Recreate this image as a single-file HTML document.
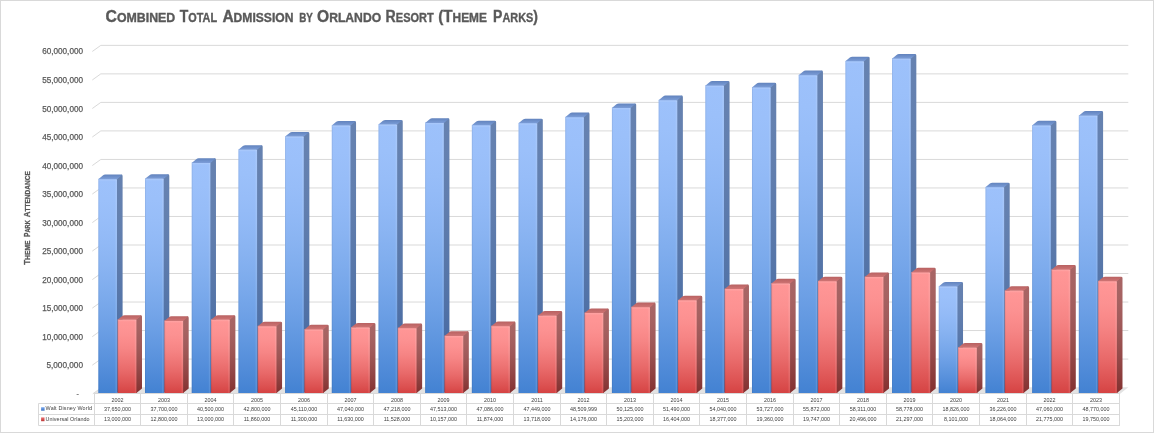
<!DOCTYPE html><html><head><meta charset="utf-8"><style>html,body{margin:0;padding:0;background:#fff;}svg{display:block;will-change:transform;}text{font-family:"Liberation Sans",sans-serif;}</style></head><body>
<svg width="1154" height="433" viewBox="0 0 1154 433">
<defs>
<linearGradient id="bf" x1="0" y1="0" x2="0" y2="1"><stop offset="0" stop-color="#9dc1fb"/><stop offset="0.1" stop-color="#9bc0fa"/><stop offset="0.2" stop-color="#97bdf8"/><stop offset="0.3" stop-color="#91b9f6"/><stop offset="0.4" stop-color="#8ab4f2"/><stop offset="0.5" stop-color="#81aeee"/><stop offset="0.6" stop-color="#77a7ea"/><stop offset="0.7" stop-color="#6c9fe5"/><stop offset="0.8" stop-color="#5f96df"/><stop offset="0.9" stop-color="#528cd9"/><stop offset="1.0" stop-color="#4382d2"/></linearGradient>
<linearGradient id="bs" x1="0" y1="0" x2="0" y2="1"><stop offset="0" stop-color="#6682b0"/><stop offset="0.1" stop-color="#6581b0"/><stop offset="0.2" stop-color="#6380af"/><stop offset="0.3" stop-color="#617eae"/><stop offset="0.4" stop-color="#5d7bac"/><stop offset="0.5" stop-color="#5978aa"/><stop offset="0.6" stop-color="#5575a8"/><stop offset="0.7" stop-color="#5071a6"/><stop offset="0.8" stop-color="#4a6ca4"/><stop offset="0.9" stop-color="#4467a1"/><stop offset="1.0" stop-color="#3d629e"/></linearGradient>
<linearGradient id="rf" x1="0" y1="0" x2="0" y2="1"><stop offset="0" stop-color="#ff9696"/><stop offset="0.1" stop-color="#fe9494"/><stop offset="0.2" stop-color="#fc9191"/><stop offset="0.3" stop-color="#fa8b8b"/><stop offset="0.4" stop-color="#f68585"/><stop offset="0.5" stop-color="#f27c7c"/><stop offset="0.6" stop-color="#ed7373"/><stop offset="0.7" stop-color="#e86969"/><stop offset="0.8" stop-color="#e25d5d"/><stop offset="0.9" stop-color="#dc5151"/><stop offset="1.0" stop-color="#d54343"/></linearGradient>
<linearGradient id="rs" x1="0" y1="0" x2="0" y2="1"><stop offset="0" stop-color="#a86565"/><stop offset="0.1" stop-color="#a76464"/><stop offset="0.2" stop-color="#a66261"/><stop offset="0.3" stop-color="#a35e5e"/><stop offset="0.4" stop-color="#a05a5a"/><stop offset="0.5" stop-color="#9d5554"/><stop offset="0.6" stop-color="#984f4e"/><stop offset="0.7" stop-color="#944848"/><stop offset="0.8" stop-color="#8f4140"/><stop offset="0.9" stop-color="#893938"/><stop offset="1.0" stop-color="#83302f"/></linearGradient>
<linearGradient id="bt" x1="0" y1="0" x2="0" y2="1"><stop offset="0" stop-color="#6283bd"/><stop offset="1" stop-color="#7b9dd8"/></linearGradient>
<linearGradient id="rt" x1="0" y1="0" x2="0" y2="1"><stop offset="0" stop-color="#b86262"/><stop offset="1" stop-color="#cf7474"/></linearGradient>
<linearGradient id="kb" x1="0" y1="0" x2="0" y2="1"><stop offset="0" stop-color="#80aef0"/><stop offset="1" stop-color="#3a6fc0"/></linearGradient>
<linearGradient id="kr" x1="0" y1="0" x2="0" y2="1"><stop offset="0" stop-color="#ec7474"/><stop offset="1" stop-color="#bb3333"/></linearGradient>
</defs>
<rect x="0.5" y="0.5" width="1153" height="432" fill="#fff" stroke="#d9d9d9" stroke-width="1"/>
<path d="M92.3 365.18L100.8 359.08H1128.3" fill="none" stroke="#d9d9d9" stroke-width="1"/>
<path d="M92.3 336.66L100.8 330.56H1128.3" fill="none" stroke="#d9d9d9" stroke-width="1"/>
<path d="M92.3 308.14L100.8 302.04H1128.3" fill="none" stroke="#d9d9d9" stroke-width="1"/>
<path d="M92.3 279.62L100.8 273.52H1128.3" fill="none" stroke="#d9d9d9" stroke-width="1"/>
<path d="M92.3 251.1L100.8 245H1128.3" fill="none" stroke="#d9d9d9" stroke-width="1"/>
<path d="M92.3 222.58L100.8 216.48H1128.3" fill="none" stroke="#d9d9d9" stroke-width="1"/>
<path d="M92.3 194.06L100.8 187.96H1128.3" fill="none" stroke="#d9d9d9" stroke-width="1"/>
<path d="M92.3 165.54L100.8 159.44H1128.3" fill="none" stroke="#d9d9d9" stroke-width="1"/>
<path d="M92.3 137.02L100.8 130.92H1128.3" fill="none" stroke="#d9d9d9" stroke-width="1"/>
<path d="M92.3 108.5L100.8 102.4H1128.3" fill="none" stroke="#d9d9d9" stroke-width="1"/>
<path d="M92.3 79.98L100.8 73.88H1128.3" fill="none" stroke="#d9d9d9" stroke-width="1"/>
<path d="M92.3 51.46L100.8 45.36H1128.3" fill="none" stroke="#d9d9d9" stroke-width="1"/>
<path d="M93.2 394L101.7 387.2H1128.3L1119.8 394Z" fill="#e3e3e3" stroke="none"/>
<path d="M92.8 393.8L101.3 387.7" fill="none" stroke="#d9d9d9" stroke-width="1"/>
<rect x="98.3" y="178.74" width="19.3" height="214.26" fill="url(#bf)"/><path d="M115.8 179.14L121.4 174.54H121.2Q122.6 174.54 122.6 175.94V388.4L117 393V179.14Z" fill="url(#bs)"/><path d="M98.3 179.14L102.82 175.43Q103.9 174.54 105.3 174.54H121.2Q122.6 174.54 121.52 175.43L117 179.14Z" fill="url(#bt)"/><rect x="115.4" y="179.14" width="1.6" height="213.86" fill="#fff" fill-opacity="0.10"/><rect x="98.3" y="179.14" width="1" height="213.86" fill="#000" fill-opacity="0.06"/><rect x="98.3" y="179.14" width="18.7" height="1.5" fill="#fff" fill-opacity="0.10"/>
<rect x="117.7" y="319.35" width="19.3" height="73.65" fill="url(#rf)"/><path d="M135.2 319.75L140.8 315.15H140.6Q142 315.15 142 316.55V388.4L136.4 393V319.75Z" fill="url(#rs)"/><path d="M117.7 319.75L122.22 316.04Q123.3 315.15 124.7 315.15H140.6Q142 315.15 140.92 316.04L136.4 319.75Z" fill="url(#rt)"/><rect x="134.8" y="319.75" width="1.6" height="73.25" fill="#fff" fill-opacity="0.10"/><rect x="117.7" y="319.75" width="1" height="73.25" fill="#000" fill-opacity="0.06"/><rect x="117.7" y="319.75" width="18.7" height="1.5" fill="#fff" fill-opacity="0.10"/>
<rect x="144.99" y="178.46" width="19.3" height="214.54" fill="url(#bf)"/><path d="M162.49 178.86L168.09 174.26H167.89Q169.29 174.26 169.29 175.66V388.4L163.69 393V178.86Z" fill="url(#bs)"/><path d="M144.99 178.86L149.51 175.15Q150.59 174.26 151.99 174.26H167.89Q169.29 174.26 168.21 175.15L163.69 178.86Z" fill="url(#bt)"/><rect x="162.09" y="178.86" width="1.6" height="214.14" fill="#fff" fill-opacity="0.10"/><rect x="144.99" y="178.86" width="1" height="214.14" fill="#000" fill-opacity="0.06"/><rect x="144.99" y="178.86" width="18.7" height="1.5" fill="#fff" fill-opacity="0.10"/>
<rect x="164.39" y="320.49" width="19.3" height="72.51" fill="url(#rf)"/><path d="M181.89 320.89L187.49 316.29H187.29Q188.69 316.29 188.69 317.69V388.4L183.09 393V320.89Z" fill="url(#rs)"/><path d="M164.39 320.89L168.91 317.18Q169.99 316.29 171.39 316.29H187.29Q188.69 316.29 187.61 317.18L183.09 320.89Z" fill="url(#rt)"/><rect x="181.49" y="320.89" width="1.6" height="72.11" fill="#fff" fill-opacity="0.10"/><rect x="164.39" y="320.89" width="1" height="72.11" fill="#000" fill-opacity="0.06"/><rect x="164.39" y="320.89" width="18.7" height="1.5" fill="#fff" fill-opacity="0.10"/>
<rect x="191.68" y="162.49" width="19.3" height="230.51" fill="url(#bf)"/><path d="M209.18 162.89L214.78 158.29H214.58Q215.98 158.29 215.98 159.69V388.4L210.38 393V162.89Z" fill="url(#bs)"/><path d="M191.68 162.89L196.2 159.18Q197.28 158.29 198.68 158.29H214.58Q215.98 158.29 214.9 159.18L210.38 162.89Z" fill="url(#bt)"/><rect x="208.78" y="162.89" width="1.6" height="230.11" fill="#fff" fill-opacity="0.10"/><rect x="191.68" y="162.89" width="1" height="230.11" fill="#000" fill-opacity="0.06"/><rect x="191.68" y="162.89" width="18.7" height="1.5" fill="#fff" fill-opacity="0.10"/>
<rect x="211.08" y="319.35" width="19.3" height="73.65" fill="url(#rf)"/><path d="M228.58 319.75L234.18 315.15H233.98Q235.38 315.15 235.38 316.55V388.4L229.78 393V319.75Z" fill="url(#rs)"/><path d="M211.08 319.75L215.6 316.04Q216.68 315.15 218.08 315.15H233.98Q235.38 315.15 234.3 316.04L229.78 319.75Z" fill="url(#rt)"/><rect x="228.18" y="319.75" width="1.6" height="73.25" fill="#fff" fill-opacity="0.10"/><rect x="211.08" y="319.75" width="1" height="73.25" fill="#000" fill-opacity="0.06"/><rect x="211.08" y="319.75" width="18.7" height="1.5" fill="#fff" fill-opacity="0.10"/>
<rect x="238.37" y="149.37" width="19.3" height="243.63" fill="url(#bf)"/><path d="M255.87 149.77L261.47 145.17H261.27Q262.67 145.17 262.67 146.57V388.4L257.07 393V149.77Z" fill="url(#bs)"/><path d="M238.37 149.77L242.89 146.06Q243.97 145.17 245.37 145.17H261.27Q262.67 145.17 261.59 146.06L257.07 149.77Z" fill="url(#bt)"/><rect x="255.47" y="149.77" width="1.6" height="243.23" fill="#fff" fill-opacity="0.10"/><rect x="238.37" y="149.77" width="1" height="243.23" fill="#000" fill-opacity="0.06"/><rect x="238.37" y="149.77" width="18.7" height="1.5" fill="#fff" fill-opacity="0.10"/>
<rect x="257.77" y="325.85" width="19.3" height="67.15" fill="url(#rf)"/><path d="M275.27 326.25L280.87 321.65H280.67Q282.07 321.65 282.07 323.05V388.4L276.47 393V326.25Z" fill="url(#rs)"/><path d="M257.77 326.25L262.29 322.54Q263.37 321.65 264.77 321.65H280.67Q282.07 321.65 280.99 322.54L276.47 326.25Z" fill="url(#rt)"/><rect x="274.87" y="326.25" width="1.6" height="66.75" fill="#fff" fill-opacity="0.10"/><rect x="257.77" y="326.25" width="1" height="66.75" fill="#000" fill-opacity="0.06"/><rect x="257.77" y="326.25" width="18.7" height="1.5" fill="#fff" fill-opacity="0.10"/>
<rect x="285.06" y="136.19" width="19.3" height="256.81" fill="url(#bf)"/><path d="M302.56 136.59L308.16 131.99H307.96Q309.36 131.99 309.36 133.39V388.4L303.76 393V136.59Z" fill="url(#bs)"/><path d="M285.06 136.59L289.58 132.88Q290.66 131.99 292.06 131.99H307.96Q309.36 131.99 308.28 132.88L303.76 136.59Z" fill="url(#bt)"/><rect x="302.16" y="136.59" width="1.6" height="256.41" fill="#fff" fill-opacity="0.10"/><rect x="285.06" y="136.59" width="1" height="256.41" fill="#000" fill-opacity="0.06"/><rect x="285.06" y="136.59" width="18.7" height="1.5" fill="#fff" fill-opacity="0.10"/>
<rect x="304.46" y="329.04" width="19.3" height="63.96" fill="url(#rf)"/><path d="M321.96 329.44L327.56 324.84H327.36Q328.76 324.84 328.76 326.24V388.4L323.16 393V329.44Z" fill="url(#rs)"/><path d="M304.46 329.44L308.98 325.73Q310.06 324.84 311.46 324.84H327.36Q328.76 324.84 327.68 325.73L323.16 329.44Z" fill="url(#rt)"/><rect x="321.56" y="329.44" width="1.6" height="63.56" fill="#fff" fill-opacity="0.10"/><rect x="304.46" y="329.44" width="1" height="63.56" fill="#000" fill-opacity="0.06"/><rect x="304.46" y="329.44" width="18.7" height="1.5" fill="#fff" fill-opacity="0.10"/>
<rect x="331.75" y="125.18" width="19.3" height="267.82" fill="url(#bf)"/><path d="M349.25 125.58L354.85 120.98H354.65Q356.05 120.98 356.05 122.38V388.4L350.45 393V125.58Z" fill="url(#bs)"/><path d="M331.75 125.58L336.27 121.87Q337.35 120.98 338.75 120.98H354.65Q356.05 120.98 354.97 121.87L350.45 125.58Z" fill="url(#bt)"/><rect x="348.85" y="125.58" width="1.6" height="267.42" fill="#fff" fill-opacity="0.10"/><rect x="331.75" y="125.58" width="1" height="267.42" fill="#000" fill-opacity="0.06"/><rect x="331.75" y="125.58" width="18.7" height="1.5" fill="#fff" fill-opacity="0.10"/>
<rect x="351.15" y="327.16" width="19.3" height="65.84" fill="url(#rf)"/><path d="M368.65 327.56L374.25 322.96H374.05Q375.45 322.96 375.45 324.36V388.4L369.85 393V327.56Z" fill="url(#rs)"/><path d="M351.15 327.56L355.67 323.85Q356.75 322.96 358.15 322.96H374.05Q375.45 322.96 374.37 323.85L369.85 327.56Z" fill="url(#rt)"/><rect x="368.25" y="327.56" width="1.6" height="65.44" fill="#fff" fill-opacity="0.10"/><rect x="351.15" y="327.56" width="1" height="65.44" fill="#000" fill-opacity="0.06"/><rect x="351.15" y="327.56" width="18.7" height="1.5" fill="#fff" fill-opacity="0.10"/>
<rect x="378.44" y="124.17" width="19.3" height="268.83" fill="url(#bf)"/><path d="M395.94 124.57L401.54 119.97H401.34Q402.74 119.97 402.74 121.37V388.4L397.14 393V124.57Z" fill="url(#bs)"/><path d="M378.44 124.57L382.96 120.86Q384.04 119.97 385.44 119.97H401.34Q402.74 119.97 401.66 120.86L397.14 124.57Z" fill="url(#bt)"/><rect x="395.54" y="124.57" width="1.6" height="268.43" fill="#fff" fill-opacity="0.10"/><rect x="378.44" y="124.57" width="1" height="268.43" fill="#000" fill-opacity="0.06"/><rect x="378.44" y="124.57" width="18.7" height="1.5" fill="#fff" fill-opacity="0.10"/>
<rect x="397.84" y="327.74" width="19.3" height="65.26" fill="url(#rf)"/><path d="M415.34 328.14L420.94 323.54H420.74Q422.14 323.54 422.14 324.94V388.4L416.54 393V328.14Z" fill="url(#rs)"/><path d="M397.84 328.14L402.36 324.43Q403.44 323.54 404.84 323.54H420.74Q422.14 323.54 421.06 324.43L416.54 328.14Z" fill="url(#rt)"/><rect x="414.94" y="328.14" width="1.6" height="64.86" fill="#fff" fill-opacity="0.10"/><rect x="397.84" y="328.14" width="1" height="64.86" fill="#000" fill-opacity="0.06"/><rect x="397.84" y="328.14" width="18.7" height="1.5" fill="#fff" fill-opacity="0.10"/>
<rect x="425.13" y="122.49" width="19.3" height="270.51" fill="url(#bf)"/><path d="M442.63 122.89L448.23 118.29H448.03Q449.43 118.29 449.43 119.69V388.4L443.83 393V122.89Z" fill="url(#bs)"/><path d="M425.13 122.89L429.65 119.17Q430.73 118.29 432.13 118.29H448.03Q449.43 118.29 448.35 119.17L443.83 122.89Z" fill="url(#bt)"/><rect x="442.23" y="122.89" width="1.6" height="270.11" fill="#fff" fill-opacity="0.10"/><rect x="425.13" y="122.89" width="1" height="270.11" fill="#000" fill-opacity="0.06"/><rect x="425.13" y="122.89" width="18.7" height="1.5" fill="#fff" fill-opacity="0.10"/>
<rect x="444.53" y="335.56" width="19.3" height="57.44" fill="url(#rf)"/><path d="M462.03 335.96L467.63 331.36H467.43Q468.83 331.36 468.83 332.76V388.4L463.23 393V335.96Z" fill="url(#rs)"/><path d="M444.53 335.96L449.05 332.25Q450.13 331.36 451.53 331.36H467.43Q468.83 331.36 467.75 332.25L463.23 335.96Z" fill="url(#rt)"/><rect x="461.63" y="335.96" width="1.6" height="57.04" fill="#fff" fill-opacity="0.10"/><rect x="444.53" y="335.96" width="1" height="57.04" fill="#000" fill-opacity="0.06"/><rect x="444.53" y="335.96" width="18.7" height="1.5" fill="#fff" fill-opacity="0.10"/>
<rect x="471.82" y="124.92" width="19.3" height="268.08" fill="url(#bf)"/><path d="M489.32 125.32L494.92 120.72H494.72Q496.12 120.72 496.12 122.12V388.4L490.52 393V125.32Z" fill="url(#bs)"/><path d="M471.82 125.32L476.34 121.61Q477.42 120.72 478.82 120.72H494.72Q496.12 120.72 495.04 121.61L490.52 125.32Z" fill="url(#bt)"/><rect x="488.92" y="125.32" width="1.6" height="267.68" fill="#fff" fill-opacity="0.10"/><rect x="471.82" y="125.32" width="1" height="267.68" fill="#000" fill-opacity="0.06"/><rect x="471.82" y="125.32" width="18.7" height="1.5" fill="#fff" fill-opacity="0.10"/>
<rect x="491.22" y="325.77" width="19.3" height="67.23" fill="url(#rf)"/><path d="M508.72 326.17L514.32 321.57H514.12Q515.52 321.57 515.52 322.97V388.4L509.92 393V326.17Z" fill="url(#rs)"/><path d="M491.22 326.17L495.74 322.46Q496.82 321.57 498.22 321.57H514.12Q515.52 321.57 514.44 322.46L509.92 326.17Z" fill="url(#rt)"/><rect x="508.32" y="326.17" width="1.6" height="66.83" fill="#fff" fill-opacity="0.10"/><rect x="491.22" y="326.17" width="1" height="66.83" fill="#000" fill-opacity="0.06"/><rect x="491.22" y="326.17" width="18.7" height="1.5" fill="#fff" fill-opacity="0.10"/>
<rect x="518.51" y="122.85" width="19.3" height="270.15" fill="url(#bf)"/><path d="M536.01 123.25L541.61 118.65H541.41Q542.81 118.65 542.81 120.05V388.4L537.21 393V123.25Z" fill="url(#bs)"/><path d="M518.51 123.25L523.03 119.54Q524.11 118.65 525.51 118.65H541.41Q542.81 118.65 541.73 119.54L537.21 123.25Z" fill="url(#bt)"/><rect x="535.61" y="123.25" width="1.6" height="269.75" fill="#fff" fill-opacity="0.10"/><rect x="518.51" y="123.25" width="1" height="269.75" fill="#000" fill-opacity="0.06"/><rect x="518.51" y="123.25" width="18.7" height="1.5" fill="#fff" fill-opacity="0.10"/>
<rect x="537.91" y="315.25" width="19.3" height="77.75" fill="url(#rf)"/><path d="M555.41 315.65L561.01 311.05H560.81Q562.21 311.05 562.21 312.45V388.4L556.61 393V315.65Z" fill="url(#rs)"/><path d="M537.91 315.65L542.43 311.94Q543.51 311.05 544.91 311.05H560.81Q562.21 311.05 561.13 311.94L556.61 315.65Z" fill="url(#rt)"/><rect x="555.01" y="315.65" width="1.6" height="77.35" fill="#fff" fill-opacity="0.10"/><rect x="537.91" y="315.65" width="1" height="77.35" fill="#000" fill-opacity="0.06"/><rect x="537.91" y="315.65" width="18.7" height="1.5" fill="#fff" fill-opacity="0.10"/>
<rect x="565.2" y="116.8" width="19.3" height="276.2" fill="url(#bf)"/><path d="M582.7 117.2L588.3 112.6H588.1Q589.5 112.6 589.5 114V388.4L583.9 393V117.2Z" fill="url(#bs)"/><path d="M565.2 117.2L569.72 113.49Q570.8 112.6 572.2 112.6H588.1Q589.5 112.6 588.42 113.49L583.9 117.2Z" fill="url(#bt)"/><rect x="582.3" y="117.2" width="1.6" height="275.8" fill="#fff" fill-opacity="0.10"/><rect x="565.2" y="117.2" width="1" height="275.8" fill="#000" fill-opacity="0.06"/><rect x="565.2" y="117.2" width="18.7" height="1.5" fill="#fff" fill-opacity="0.10"/>
<rect x="584.6" y="312.64" width="19.3" height="80.36" fill="url(#rf)"/><path d="M602.1 313.04L607.7 308.44H607.5Q608.9 308.44 608.9 309.84V388.4L603.3 393V313.04Z" fill="url(#rs)"/><path d="M584.6 313.04L589.12 309.33Q590.2 308.44 591.6 308.44H607.5Q608.9 308.44 607.82 309.33L603.3 313.04Z" fill="url(#rt)"/><rect x="601.7" y="313.04" width="1.6" height="79.96" fill="#fff" fill-opacity="0.10"/><rect x="584.6" y="313.04" width="1" height="79.96" fill="#000" fill-opacity="0.06"/><rect x="584.6" y="313.04" width="18.7" height="1.5" fill="#fff" fill-opacity="0.10"/>
<rect x="611.89" y="107.59" width="19.3" height="285.41" fill="url(#bf)"/><path d="M629.39 107.99L634.99 103.39H634.79Q636.19 103.39 636.19 104.79V388.4L630.59 393V107.99Z" fill="url(#bs)"/><path d="M611.89 107.99L616.41 104.28Q617.49 103.39 618.89 103.39H634.79Q636.19 103.39 635.11 104.28L630.59 107.99Z" fill="url(#bt)"/><rect x="628.99" y="107.99" width="1.6" height="285.01" fill="#fff" fill-opacity="0.10"/><rect x="611.89" y="107.99" width="1" height="285.01" fill="#000" fill-opacity="0.06"/><rect x="611.89" y="107.99" width="18.7" height="1.5" fill="#fff" fill-opacity="0.10"/>
<rect x="631.29" y="306.78" width="19.3" height="86.22" fill="url(#rf)"/><path d="M648.79 307.18L654.39 302.58H654.19Q655.59 302.58 655.59 303.98V388.4L649.99 393V307.18Z" fill="url(#rs)"/><path d="M631.29 307.18L635.81 303.47Q636.89 302.58 638.29 302.58H654.19Q655.59 302.58 654.51 303.47L649.99 307.18Z" fill="url(#rt)"/><rect x="648.39" y="307.18" width="1.6" height="85.82" fill="#fff" fill-opacity="0.10"/><rect x="631.29" y="307.18" width="1" height="85.82" fill="#000" fill-opacity="0.06"/><rect x="631.29" y="307.18" width="18.7" height="1.5" fill="#fff" fill-opacity="0.10"/>
<rect x="658.58" y="99.8" width="19.3" height="293.2" fill="url(#bf)"/><path d="M676.08 100.2L681.68 95.6H681.48Q682.88 95.6 682.88 97V388.4L677.28 393V100.2Z" fill="url(#bs)"/><path d="M658.58 100.2L663.1 96.49Q664.18 95.6 665.58 95.6H681.48Q682.88 95.6 681.8 96.49L677.28 100.2Z" fill="url(#bt)"/><rect x="675.68" y="100.2" width="1.6" height="292.8" fill="#fff" fill-opacity="0.10"/><rect x="658.58" y="100.2" width="1" height="292.8" fill="#000" fill-opacity="0.06"/><rect x="658.58" y="100.2" width="18.7" height="1.5" fill="#fff" fill-opacity="0.10"/>
<rect x="677.98" y="299.93" width="19.3" height="93.07" fill="url(#rf)"/><path d="M695.48 300.33L701.08 295.73H700.88Q702.28 295.73 702.28 297.13V388.4L696.68 393V300.33Z" fill="url(#rs)"/><path d="M677.98 300.33L682.5 296.62Q683.58 295.73 684.98 295.73H700.88Q702.28 295.73 701.2 296.62L696.68 300.33Z" fill="url(#rt)"/><rect x="695.08" y="300.33" width="1.6" height="92.67" fill="#fff" fill-opacity="0.10"/><rect x="677.98" y="300.33" width="1" height="92.67" fill="#000" fill-opacity="0.06"/><rect x="677.98" y="300.33" width="18.7" height="1.5" fill="#fff" fill-opacity="0.10"/>
<rect x="705.27" y="85.26" width="19.3" height="307.74" fill="url(#bf)"/><path d="M722.77 85.66L728.37 81.06H728.17Q729.57 81.06 729.57 82.46V388.4L723.97 393V85.66Z" fill="url(#bs)"/><path d="M705.27 85.66L709.79 81.94Q710.87 81.06 712.27 81.06H728.17Q729.57 81.06 728.49 81.94L723.97 85.66Z" fill="url(#bt)"/><rect x="722.37" y="85.66" width="1.6" height="307.34" fill="#fff" fill-opacity="0.10"/><rect x="705.27" y="85.66" width="1" height="307.34" fill="#000" fill-opacity="0.06"/><rect x="705.27" y="85.66" width="18.7" height="1.5" fill="#fff" fill-opacity="0.10"/>
<rect x="724.67" y="288.68" width="19.3" height="104.32" fill="url(#rf)"/><path d="M742.17 289.08L747.77 284.48H747.57Q748.97 284.48 748.97 285.88V388.4L743.37 393V289.08Z" fill="url(#rs)"/><path d="M724.67 289.08L729.19 285.37Q730.27 284.48 731.67 284.48H747.57Q748.97 284.48 747.89 285.37L743.37 289.08Z" fill="url(#rt)"/><rect x="741.77" y="289.08" width="1.6" height="103.92" fill="#fff" fill-opacity="0.10"/><rect x="724.67" y="289.08" width="1" height="103.92" fill="#000" fill-opacity="0.06"/><rect x="724.67" y="289.08" width="18.7" height="1.5" fill="#fff" fill-opacity="0.10"/>
<rect x="751.96" y="87.04" width="19.3" height="305.96" fill="url(#bf)"/><path d="M769.46 87.44L775.06 82.84H774.86Q776.26 82.84 776.26 84.24V388.4L770.66 393V87.44Z" fill="url(#bs)"/><path d="M751.96 87.44L756.48 83.73Q757.56 82.84 758.96 82.84H774.86Q776.26 82.84 775.18 83.73L770.66 87.44Z" fill="url(#bt)"/><rect x="769.06" y="87.44" width="1.6" height="305.56" fill="#fff" fill-opacity="0.10"/><rect x="751.96" y="87.44" width="1" height="305.56" fill="#000" fill-opacity="0.06"/><rect x="751.96" y="87.44" width="18.7" height="1.5" fill="#fff" fill-opacity="0.10"/>
<rect x="771.36" y="283.07" width="19.3" height="109.93" fill="url(#rf)"/><path d="M788.86 283.47L794.46 278.87H794.26Q795.66 278.87 795.66 280.27V388.4L790.06 393V283.47Z" fill="url(#rs)"/><path d="M771.36 283.47L775.88 279.76Q776.96 278.87 778.36 278.87H794.26Q795.66 278.87 794.58 279.76L790.06 283.47Z" fill="url(#rt)"/><rect x="788.46" y="283.47" width="1.6" height="109.53" fill="#fff" fill-opacity="0.10"/><rect x="771.36" y="283.47" width="1" height="109.53" fill="#000" fill-opacity="0.06"/><rect x="771.36" y="283.47" width="18.7" height="1.5" fill="#fff" fill-opacity="0.10"/>
<rect x="798.65" y="74.81" width="19.3" height="318.19" fill="url(#bf)"/><path d="M816.15 75.21L821.75 70.61H821.55Q822.95 70.61 822.95 72.01V388.4L817.35 393V75.21Z" fill="url(#bs)"/><path d="M798.65 75.21L803.17 71.49Q804.25 70.61 805.65 70.61H821.55Q822.95 70.61 821.87 71.49L817.35 75.21Z" fill="url(#bt)"/><rect x="815.75" y="75.21" width="1.6" height="317.79" fill="#fff" fill-opacity="0.10"/><rect x="798.65" y="75.21" width="1" height="317.79" fill="#000" fill-opacity="0.06"/><rect x="798.65" y="75.21" width="18.7" height="1.5" fill="#fff" fill-opacity="0.10"/>
<rect x="818.05" y="280.86" width="19.3" height="112.14" fill="url(#rf)"/><path d="M835.55 281.26L841.15 276.66H840.95Q842.35 276.66 842.35 278.06V388.4L836.75 393V281.26Z" fill="url(#rs)"/><path d="M818.05 281.26L822.57 277.55Q823.65 276.66 825.05 276.66H840.95Q842.35 276.66 841.27 277.55L836.75 281.26Z" fill="url(#rt)"/><rect x="835.15" y="281.26" width="1.6" height="111.74" fill="#fff" fill-opacity="0.10"/><rect x="818.05" y="281.26" width="1" height="111.74" fill="#000" fill-opacity="0.06"/><rect x="818.05" y="281.26" width="18.7" height="1.5" fill="#fff" fill-opacity="0.10"/>
<rect x="845.34" y="60.89" width="19.3" height="332.11" fill="url(#bf)"/><path d="M862.84 61.29L868.44 56.69H868.24Q869.64 56.69 869.64 58.09V388.4L864.04 393V61.29Z" fill="url(#bs)"/><path d="M845.34 61.29L849.86 57.58Q850.94 56.69 852.34 56.69H868.24Q869.64 56.69 868.56 57.58L864.04 61.29Z" fill="url(#bt)"/><rect x="862.44" y="61.29" width="1.6" height="331.71" fill="#fff" fill-opacity="0.10"/><rect x="845.34" y="61.29" width="1" height="331.71" fill="#000" fill-opacity="0.06"/><rect x="845.34" y="61.29" width="18.7" height="1.5" fill="#fff" fill-opacity="0.10"/>
<rect x="864.74" y="276.59" width="19.3" height="116.41" fill="url(#rf)"/><path d="M882.24 276.99L887.84 272.39H887.64Q889.04 272.39 889.04 273.79V388.4L883.44 393V276.99Z" fill="url(#rs)"/><path d="M864.74 276.99L869.26 273.28Q870.34 272.39 871.74 272.39H887.64Q889.04 272.39 887.96 273.28L883.44 276.99Z" fill="url(#rt)"/><rect x="881.84" y="276.99" width="1.6" height="116.01" fill="#fff" fill-opacity="0.10"/><rect x="864.74" y="276.99" width="1" height="116.01" fill="#000" fill-opacity="0.06"/><rect x="864.74" y="276.99" width="18.7" height="1.5" fill="#fff" fill-opacity="0.10"/>
<rect x="892.03" y="58.23" width="19.3" height="334.77" fill="url(#bf)"/><path d="M909.53 58.63L915.13 54.03H914.93Q916.33 54.03 916.33 55.43V388.4L910.73 393V58.63Z" fill="url(#bs)"/><path d="M892.03 58.63L896.55 54.92Q897.63 54.03 899.03 54.03H914.93Q916.33 54.03 915.25 54.92L910.73 58.63Z" fill="url(#bt)"/><rect x="909.13" y="58.63" width="1.6" height="334.37" fill="#fff" fill-opacity="0.10"/><rect x="892.03" y="58.63" width="1" height="334.37" fill="#000" fill-opacity="0.06"/><rect x="892.03" y="58.63" width="18.7" height="1.5" fill="#fff" fill-opacity="0.10"/>
<rect x="911.43" y="272.02" width="19.3" height="120.98" fill="url(#rf)"/><path d="M928.93 272.42L934.53 267.82H934.33Q935.73 267.82 935.73 269.22V388.4L930.13 393V272.42Z" fill="url(#rs)"/><path d="M911.43 272.42L915.95 268.71Q917.03 267.82 918.43 267.82H934.33Q935.73 267.82 934.65 268.71L930.13 272.42Z" fill="url(#rt)"/><rect x="928.53" y="272.42" width="1.6" height="120.58" fill="#fff" fill-opacity="0.10"/><rect x="911.43" y="272.42" width="1" height="120.58" fill="#000" fill-opacity="0.06"/><rect x="911.43" y="272.42" width="18.7" height="1.5" fill="#fff" fill-opacity="0.10"/>
<rect x="938.72" y="286.12" width="19.3" height="106.88" fill="url(#bf)"/><path d="M956.22 286.52L961.82 281.92H961.62Q963.02 281.92 963.02 283.32V388.4L957.42 393V286.52Z" fill="url(#bs)"/><path d="M938.72 286.52L943.24 282.81Q944.32 281.92 945.72 281.92H961.62Q963.02 281.92 961.94 282.81L957.42 286.52Z" fill="url(#bt)"/><rect x="955.82" y="286.52" width="1.6" height="106.48" fill="#fff" fill-opacity="0.10"/><rect x="938.72" y="286.52" width="1" height="106.48" fill="#000" fill-opacity="0.06"/><rect x="938.72" y="286.52" width="18.7" height="1.5" fill="#fff" fill-opacity="0.10"/>
<rect x="958.12" y="347.29" width="19.3" height="45.71" fill="url(#rf)"/><path d="M975.62 347.69L981.22 343.09H981.02Q982.42 343.09 982.42 344.49V388.4L976.82 393V347.69Z" fill="url(#rs)"/><path d="M958.12 347.69L962.64 343.98Q963.72 343.09 965.12 343.09H981.02Q982.42 343.09 981.34 343.98L976.82 347.69Z" fill="url(#rt)"/><rect x="975.22" y="347.69" width="1.6" height="45.31" fill="#fff" fill-opacity="0.10"/><rect x="958.12" y="347.69" width="1" height="45.31" fill="#000" fill-opacity="0.06"/><rect x="958.12" y="347.69" width="18.7" height="1.5" fill="#fff" fill-opacity="0.10"/>
<rect x="985.41" y="186.87" width="19.3" height="206.13" fill="url(#bf)"/><path d="M1002.91 187.27L1008.51 182.67H1008.31Q1009.71 182.67 1009.71 184.07V388.4L1004.11 393V187.27Z" fill="url(#bs)"/><path d="M985.41 187.27L989.93 183.56Q991.01 182.67 992.41 182.67H1008.31Q1009.71 182.67 1008.63 183.56L1004.11 187.27Z" fill="url(#bt)"/><rect x="1002.51" y="187.27" width="1.6" height="205.73" fill="#fff" fill-opacity="0.10"/><rect x="985.41" y="187.27" width="1" height="205.73" fill="#000" fill-opacity="0.06"/><rect x="985.41" y="187.27" width="18.7" height="1.5" fill="#fff" fill-opacity="0.10"/>
<rect x="1004.81" y="290.46" width="19.3" height="102.54" fill="url(#rf)"/><path d="M1022.31 290.86L1027.91 286.26H1027.71Q1029.11 286.26 1029.11 287.66V388.4L1023.51 393V290.86Z" fill="url(#rs)"/><path d="M1004.81 290.86L1009.33 287.15Q1010.41 286.26 1011.81 286.26H1027.71Q1029.11 286.26 1028.03 287.15L1023.51 290.86Z" fill="url(#rt)"/><rect x="1021.91" y="290.86" width="1.6" height="102.14" fill="#fff" fill-opacity="0.10"/><rect x="1004.81" y="290.86" width="1" height="102.14" fill="#000" fill-opacity="0.06"/><rect x="1004.81" y="290.86" width="18.7" height="1.5" fill="#fff" fill-opacity="0.10"/>
<rect x="1032.1" y="125.07" width="19.3" height="267.93" fill="url(#bf)"/><path d="M1049.6 125.47L1055.2 120.87H1055Q1056.4 120.87 1056.4 122.27V388.4L1050.8 393V125.47Z" fill="url(#bs)"/><path d="M1032.1 125.47L1036.62 121.76Q1037.7 120.87 1039.1 120.87H1055Q1056.4 120.87 1055.32 121.76L1050.8 125.47Z" fill="url(#bt)"/><rect x="1049.2" y="125.47" width="1.6" height="267.53" fill="#fff" fill-opacity="0.10"/><rect x="1032.1" y="125.47" width="1" height="267.53" fill="#000" fill-opacity="0.06"/><rect x="1032.1" y="125.47" width="18.7" height="1.5" fill="#fff" fill-opacity="0.10"/>
<rect x="1051.5" y="269.3" width="19.3" height="123.7" fill="url(#rf)"/><path d="M1069 269.7L1074.6 265.1H1074.4Q1075.8 265.1 1075.8 266.5V388.4L1070.2 393V269.7Z" fill="url(#rs)"/><path d="M1051.5 269.7L1056.02 265.98Q1057.1 265.1 1058.5 265.1H1074.4Q1075.8 265.1 1074.72 265.98L1070.2 269.7Z" fill="url(#rt)"/><rect x="1068.6" y="269.7" width="1.6" height="123.3" fill="#fff" fill-opacity="0.10"/><rect x="1051.5" y="269.7" width="1" height="123.3" fill="#000" fill-opacity="0.06"/><rect x="1051.5" y="269.7" width="18.7" height="1.5" fill="#fff" fill-opacity="0.10"/>
<rect x="1078.79" y="115.32" width="19.3" height="277.68" fill="url(#bf)"/><path d="M1096.29 115.72L1101.89 111.12H1101.69Q1103.09 111.12 1103.09 112.52V388.4L1097.49 393V115.72Z" fill="url(#bs)"/><path d="M1078.79 115.72L1083.31 112Q1084.39 111.12 1085.79 111.12H1101.69Q1103.09 111.12 1102.01 112L1097.49 115.72Z" fill="url(#bt)"/><rect x="1095.89" y="115.72" width="1.6" height="277.28" fill="#fff" fill-opacity="0.10"/><rect x="1078.79" y="115.72" width="1" height="277.28" fill="#000" fill-opacity="0.06"/><rect x="1078.79" y="115.72" width="18.7" height="1.5" fill="#fff" fill-opacity="0.10"/>
<rect x="1098.19" y="280.85" width="19.3" height="112.15" fill="url(#rf)"/><path d="M1115.69 281.25L1121.29 276.65H1121.09Q1122.49 276.65 1122.49 278.05V388.4L1116.89 393V281.25Z" fill="url(#rs)"/><path d="M1098.19 281.25L1102.71 277.53Q1103.79 276.65 1105.19 276.65H1121.09Q1122.49 276.65 1121.41 277.53L1116.89 281.25Z" fill="url(#rt)"/><rect x="1115.29" y="281.25" width="1.6" height="111.75" fill="#fff" fill-opacity="0.10"/><rect x="1098.19" y="281.25" width="1" height="111.75" fill="#000" fill-opacity="0.06"/><rect x="1098.19" y="281.25" width="18.7" height="1.5" fill="#fff" fill-opacity="0.10"/>
<text x="79.2" y="397.3" font-size="8.5" fill="#595959" text-anchor="end">-</text>
<text x="46.4" y="368.18" font-size="8.5" fill="#595959" stroke="#595959" stroke-width="0.25" textLength="36.6" lengthAdjust="spacingAndGlyphs">5,000,000</text>
<text x="42.2" y="339.66" font-size="8.5" fill="#595959" stroke="#595959" stroke-width="0.25" textLength="40.8" lengthAdjust="spacingAndGlyphs">10,000,000</text>
<text x="42.2" y="311.14" font-size="8.5" fill="#595959" stroke="#595959" stroke-width="0.25" textLength="40.8" lengthAdjust="spacingAndGlyphs">15,000,000</text>
<text x="42.2" y="282.62" font-size="8.5" fill="#595959" stroke="#595959" stroke-width="0.25" textLength="40.8" lengthAdjust="spacingAndGlyphs">20,000,000</text>
<text x="42.2" y="254.1" font-size="8.5" fill="#595959" stroke="#595959" stroke-width="0.25" textLength="40.8" lengthAdjust="spacingAndGlyphs">25,000,000</text>
<text x="42.2" y="225.58" font-size="8.5" fill="#595959" stroke="#595959" stroke-width="0.25" textLength="40.8" lengthAdjust="spacingAndGlyphs">30,000,000</text>
<text x="42.2" y="197.06" font-size="8.5" fill="#595959" stroke="#595959" stroke-width="0.25" textLength="40.8" lengthAdjust="spacingAndGlyphs">35,000,000</text>
<text x="42.2" y="168.54" font-size="8.5" fill="#595959" stroke="#595959" stroke-width="0.25" textLength="40.8" lengthAdjust="spacingAndGlyphs">40,000,000</text>
<text x="42.2" y="140.02" font-size="8.5" fill="#595959" stroke="#595959" stroke-width="0.25" textLength="40.8" lengthAdjust="spacingAndGlyphs">45,000,000</text>
<text x="42.2" y="111.5" font-size="8.5" fill="#595959" stroke="#595959" stroke-width="0.25" textLength="40.8" lengthAdjust="spacingAndGlyphs">50,000,000</text>
<text x="42.2" y="82.98" font-size="8.5" fill="#595959" stroke="#595959" stroke-width="0.25" textLength="40.8" lengthAdjust="spacingAndGlyphs">55,000,000</text>
<text x="42.2" y="54.46" font-size="8.5" fill="#595959" stroke="#595959" stroke-width="0.25" textLength="40.8" lengthAdjust="spacingAndGlyphs">60,000,000</text>
<text x="105.48" y="21.8" font-size="15.6" font-weight="bold" fill="#595959" stroke="#595959" stroke-width="0.35" textLength="69.8" lengthAdjust="spacingAndGlyphs">C<tspan font-size="12.17">OMBINED</tspan></text>
<text x="179.8" y="21.8" font-size="15.6" font-weight="bold" fill="#595959" stroke="#595959" stroke-width="0.35" textLength="37.25" lengthAdjust="spacingAndGlyphs">T<tspan font-size="12.17">OTAL</tspan></text>
<text x="222.4" y="21.8" font-size="15.6" font-weight="bold" fill="#595959" stroke="#595959" stroke-width="0.35" textLength="71.09" lengthAdjust="spacingAndGlyphs">A<tspan font-size="12.17">DMISSION</tspan></text>
<text x="299.19" y="21.8" font-size="12.17" font-weight="bold" fill="#595959" stroke="#595959" stroke-width="0.35" textLength="13.62" lengthAdjust="spacingAndGlyphs">BY</text>
<text x="317" y="21.8" font-size="15.6" font-weight="bold" fill="#595959" stroke="#595959" stroke-width="0.35" textLength="64.14" lengthAdjust="spacingAndGlyphs">O<tspan font-size="12.17">RLANDO</tspan></text>
<text x="385.59" y="21.8" font-size="15.6" font-weight="bold" fill="#595959" stroke="#595959" stroke-width="0.35" textLength="48.25" lengthAdjust="spacingAndGlyphs">R<tspan font-size="12.17">ESORT</tspan></text>
<text x="438.22" y="21.8" font-size="15.6" font-weight="bold" fill="#595959" stroke="#595959" stroke-width="0.35" textLength="48.72" lengthAdjust="spacingAndGlyphs">(T<tspan font-size="12.17">HEME</tspan></text>
<text x="493.1" y="21.8" font-size="15.6" font-weight="bold" fill="#595959" stroke="#595959" stroke-width="0.35" textLength="44.85" lengthAdjust="spacingAndGlyphs">P<tspan font-size="12.17">ARKS</tspan>)</text>
<text transform="translate(29.7 264.8) rotate(-90)" x="0" y="0" font-size="8.8" font-weight="bold" fill="#595959" stroke="#595959" stroke-width="0.3" textLength="24.3" lengthAdjust="spacingAndGlyphs">T<tspan font-size="7.3">HEME</tspan></text>
<text transform="translate(29.7 236.9) rotate(-90)" x="0" y="0" font-size="8.8" font-weight="bold" fill="#595959" stroke="#595959" stroke-width="0.3" textLength="16.6" lengthAdjust="spacingAndGlyphs">P<tspan font-size="7.3">ARK</tspan></text>
<text transform="translate(29.7 217.2) rotate(-90)" x="0" y="0" font-size="8.8" font-weight="bold" fill="#595959" stroke="#595959" stroke-width="0.3" textLength="46" lengthAdjust="spacingAndGlyphs">A<tspan font-size="7.3">TTENDANCE</tspan></text>
<path d="M94.5 393.5H1120M38.5 403.5H1120M38.5 414.5H1120M38.5 425.5H1120M38.5 403.5V425.5" fill="none" stroke="#d9d9d9" stroke-width="1"/>
<path d="M94.5 393.5V425.5" fill="none" stroke="#d9d9d9" stroke-width="1"/>
<path d="M140.5 393.5V425.5" fill="none" stroke="#d9d9d9" stroke-width="1"/>
<path d="M187.5 393.5V425.5" fill="none" stroke="#d9d9d9" stroke-width="1"/>
<path d="M233.5 393.5V425.5" fill="none" stroke="#d9d9d9" stroke-width="1"/>
<path d="M280.5 393.5V425.5" fill="none" stroke="#d9d9d9" stroke-width="1"/>
<path d="M327.5 393.5V425.5" fill="none" stroke="#d9d9d9" stroke-width="1"/>
<path d="M373.5 393.5V425.5" fill="none" stroke="#d9d9d9" stroke-width="1"/>
<path d="M420.5 393.5V425.5" fill="none" stroke="#d9d9d9" stroke-width="1"/>
<path d="M466.5 393.5V425.5" fill="none" stroke="#d9d9d9" stroke-width="1"/>
<path d="M513.5 393.5V425.5" fill="none" stroke="#d9d9d9" stroke-width="1"/>
<path d="M560.5 393.5V425.5" fill="none" stroke="#d9d9d9" stroke-width="1"/>
<path d="M606.5 393.5V425.5" fill="none" stroke="#d9d9d9" stroke-width="1"/>
<path d="M653.5 393.5V425.5" fill="none" stroke="#d9d9d9" stroke-width="1"/>
<path d="M699.5 393.5V425.5" fill="none" stroke="#d9d9d9" stroke-width="1"/>
<path d="M746.5 393.5V425.5" fill="none" stroke="#d9d9d9" stroke-width="1"/>
<path d="M793.5 393.5V425.5" fill="none" stroke="#d9d9d9" stroke-width="1"/>
<path d="M839.5 393.5V425.5" fill="none" stroke="#d9d9d9" stroke-width="1"/>
<path d="M886.5 393.5V425.5" fill="none" stroke="#d9d9d9" stroke-width="1"/>
<path d="M932.5 393.5V425.5" fill="none" stroke="#d9d9d9" stroke-width="1"/>
<path d="M979.5 393.5V425.5" fill="none" stroke="#d9d9d9" stroke-width="1"/>
<path d="M1026.5 393.5V425.5" fill="none" stroke="#d9d9d9" stroke-width="1"/>
<path d="M1072.5 393.5V425.5" fill="none" stroke="#d9d9d9" stroke-width="1"/>
<path d="M1119.5 393.5V425.5" fill="none" stroke="#d9d9d9" stroke-width="1"/>
<text x="117.5" y="401.8" font-size="5.4" fill="#404040" text-anchor="middle">2002</text>
<text x="117.5" y="410.9" font-size="5.4" fill="#404040" text-anchor="middle">37,650,000</text>
<text x="117.5" y="420.6" font-size="5.4" fill="#404040" text-anchor="middle">13,000,000</text>
<text x="164" y="401.8" font-size="5.4" fill="#404040" text-anchor="middle">2003</text>
<text x="164" y="410.9" font-size="5.4" fill="#404040" text-anchor="middle">37,700,000</text>
<text x="164" y="420.6" font-size="5.4" fill="#404040" text-anchor="middle">12,800,000</text>
<text x="210.5" y="401.8" font-size="5.4" fill="#404040" text-anchor="middle">2004</text>
<text x="210.5" y="410.9" font-size="5.4" fill="#404040" text-anchor="middle">40,500,000</text>
<text x="210.5" y="420.6" font-size="5.4" fill="#404040" text-anchor="middle">13,000,000</text>
<text x="257" y="401.8" font-size="5.4" fill="#404040" text-anchor="middle">2005</text>
<text x="257" y="410.9" font-size="5.4" fill="#404040" text-anchor="middle">42,800,000</text>
<text x="257" y="420.6" font-size="5.4" fill="#404040" text-anchor="middle">11,860,000</text>
<text x="304" y="401.8" font-size="5.4" fill="#404040" text-anchor="middle">2006</text>
<text x="304" y="410.9" font-size="5.4" fill="#404040" text-anchor="middle">45,110,000</text>
<text x="304" y="420.6" font-size="5.4" fill="#404040" text-anchor="middle">11,300,000</text>
<text x="350.5" y="401.8" font-size="5.4" fill="#404040" text-anchor="middle">2007</text>
<text x="350.5" y="410.9" font-size="5.4" fill="#404040" text-anchor="middle">47,040,000</text>
<text x="350.5" y="420.6" font-size="5.4" fill="#404040" text-anchor="middle">11,630,000</text>
<text x="397" y="401.8" font-size="5.4" fill="#404040" text-anchor="middle">2008</text>
<text x="397" y="410.9" font-size="5.4" fill="#404040" text-anchor="middle">47,218,000</text>
<text x="397" y="420.6" font-size="5.4" fill="#404040" text-anchor="middle">11,528,000</text>
<text x="443.5" y="401.8" font-size="5.4" fill="#404040" text-anchor="middle">2009</text>
<text x="443.5" y="410.9" font-size="5.4" fill="#404040" text-anchor="middle">47,513,000</text>
<text x="443.5" y="420.6" font-size="5.4" fill="#404040" text-anchor="middle">10,157,000</text>
<text x="490" y="401.8" font-size="5.4" fill="#404040" text-anchor="middle">2010</text>
<text x="490" y="410.9" font-size="5.4" fill="#404040" text-anchor="middle">47,086,000</text>
<text x="490" y="420.6" font-size="5.4" fill="#404040" text-anchor="middle">11,874,000</text>
<text x="537" y="401.8" font-size="5.4" fill="#404040" text-anchor="middle">2011</text>
<text x="537" y="410.9" font-size="5.4" fill="#404040" text-anchor="middle">47,449,000</text>
<text x="537" y="420.6" font-size="5.4" fill="#404040" text-anchor="middle">13,718,000</text>
<text x="583.5" y="401.8" font-size="5.4" fill="#404040" text-anchor="middle">2012</text>
<text x="583.5" y="410.9" font-size="5.4" fill="#404040" text-anchor="middle">48,509,999</text>
<text x="583.5" y="420.6" font-size="5.4" fill="#404040" text-anchor="middle">14,176,000</text>
<text x="630" y="401.8" font-size="5.4" fill="#404040" text-anchor="middle">2013</text>
<text x="630" y="410.9" font-size="5.4" fill="#404040" text-anchor="middle">50,125,000</text>
<text x="630" y="420.6" font-size="5.4" fill="#404040" text-anchor="middle">15,203,000</text>
<text x="676.5" y="401.8" font-size="5.4" fill="#404040" text-anchor="middle">2014</text>
<text x="676.5" y="410.9" font-size="5.4" fill="#404040" text-anchor="middle">51,490,000</text>
<text x="676.5" y="420.6" font-size="5.4" fill="#404040" text-anchor="middle">16,404,000</text>
<text x="723" y="401.8" font-size="5.4" fill="#404040" text-anchor="middle">2015</text>
<text x="723" y="410.9" font-size="5.4" fill="#404040" text-anchor="middle">54,040,000</text>
<text x="723" y="420.6" font-size="5.4" fill="#404040" text-anchor="middle">18,377,000</text>
<text x="770" y="401.8" font-size="5.4" fill="#404040" text-anchor="middle">2016</text>
<text x="770" y="410.9" font-size="5.4" fill="#404040" text-anchor="middle">53,727,000</text>
<text x="770" y="420.6" font-size="5.4" fill="#404040" text-anchor="middle">19,360,000</text>
<text x="816.5" y="401.8" font-size="5.4" fill="#404040" text-anchor="middle">2017</text>
<text x="816.5" y="410.9" font-size="5.4" fill="#404040" text-anchor="middle">55,872,000</text>
<text x="816.5" y="420.6" font-size="5.4" fill="#404040" text-anchor="middle">19,747,000</text>
<text x="863" y="401.8" font-size="5.4" fill="#404040" text-anchor="middle">2018</text>
<text x="863" y="410.9" font-size="5.4" fill="#404040" text-anchor="middle">58,311,000</text>
<text x="863" y="420.6" font-size="5.4" fill="#404040" text-anchor="middle">20,496,000</text>
<text x="909.5" y="401.8" font-size="5.4" fill="#404040" text-anchor="middle">2019</text>
<text x="909.5" y="410.9" font-size="5.4" fill="#404040" text-anchor="middle">58,778,000</text>
<text x="909.5" y="420.6" font-size="5.4" fill="#404040" text-anchor="middle">21,297,000</text>
<text x="956" y="401.8" font-size="5.4" fill="#404040" text-anchor="middle">2020</text>
<text x="956" y="410.9" font-size="5.4" fill="#404040" text-anchor="middle">18,826,000</text>
<text x="956" y="420.6" font-size="5.4" fill="#404040" text-anchor="middle">8,101,000</text>
<text x="1003" y="401.8" font-size="5.4" fill="#404040" text-anchor="middle">2021</text>
<text x="1003" y="410.9" font-size="5.4" fill="#404040" text-anchor="middle">36,226,000</text>
<text x="1003" y="420.6" font-size="5.4" fill="#404040" text-anchor="middle">18,064,000</text>
<text x="1049.5" y="401.8" font-size="5.4" fill="#404040" text-anchor="middle">2022</text>
<text x="1049.5" y="410.9" font-size="5.4" fill="#404040" text-anchor="middle">47,060,000</text>
<text x="1049.5" y="420.6" font-size="5.4" fill="#404040" text-anchor="middle">21,775,000</text>
<text x="1096" y="401.8" font-size="5.4" fill="#404040" text-anchor="middle">2023</text>
<text x="1096" y="410.9" font-size="5.4" fill="#404040" text-anchor="middle">48,770,000</text>
<text x="1096" y="420.6" font-size="5.4" fill="#404040" text-anchor="middle">19,750,000</text>
<rect x="41.1" y="407.2" width="3.5" height="3.5" fill="url(#kb)"/>
<rect x="41.1" y="417.4" width="3.4" height="3.8" fill="url(#kr)"/>
<text x="45.6" y="410.4" font-size="5.4" fill="#404040" textLength="46.4" lengthAdjust="spacing">Walt Disney World</text>
<text x="45.6" y="420.7" font-size="5.4" fill="#404040" textLength="44" lengthAdjust="spacing">Universal Orlando</text>
</svg></body></html>
